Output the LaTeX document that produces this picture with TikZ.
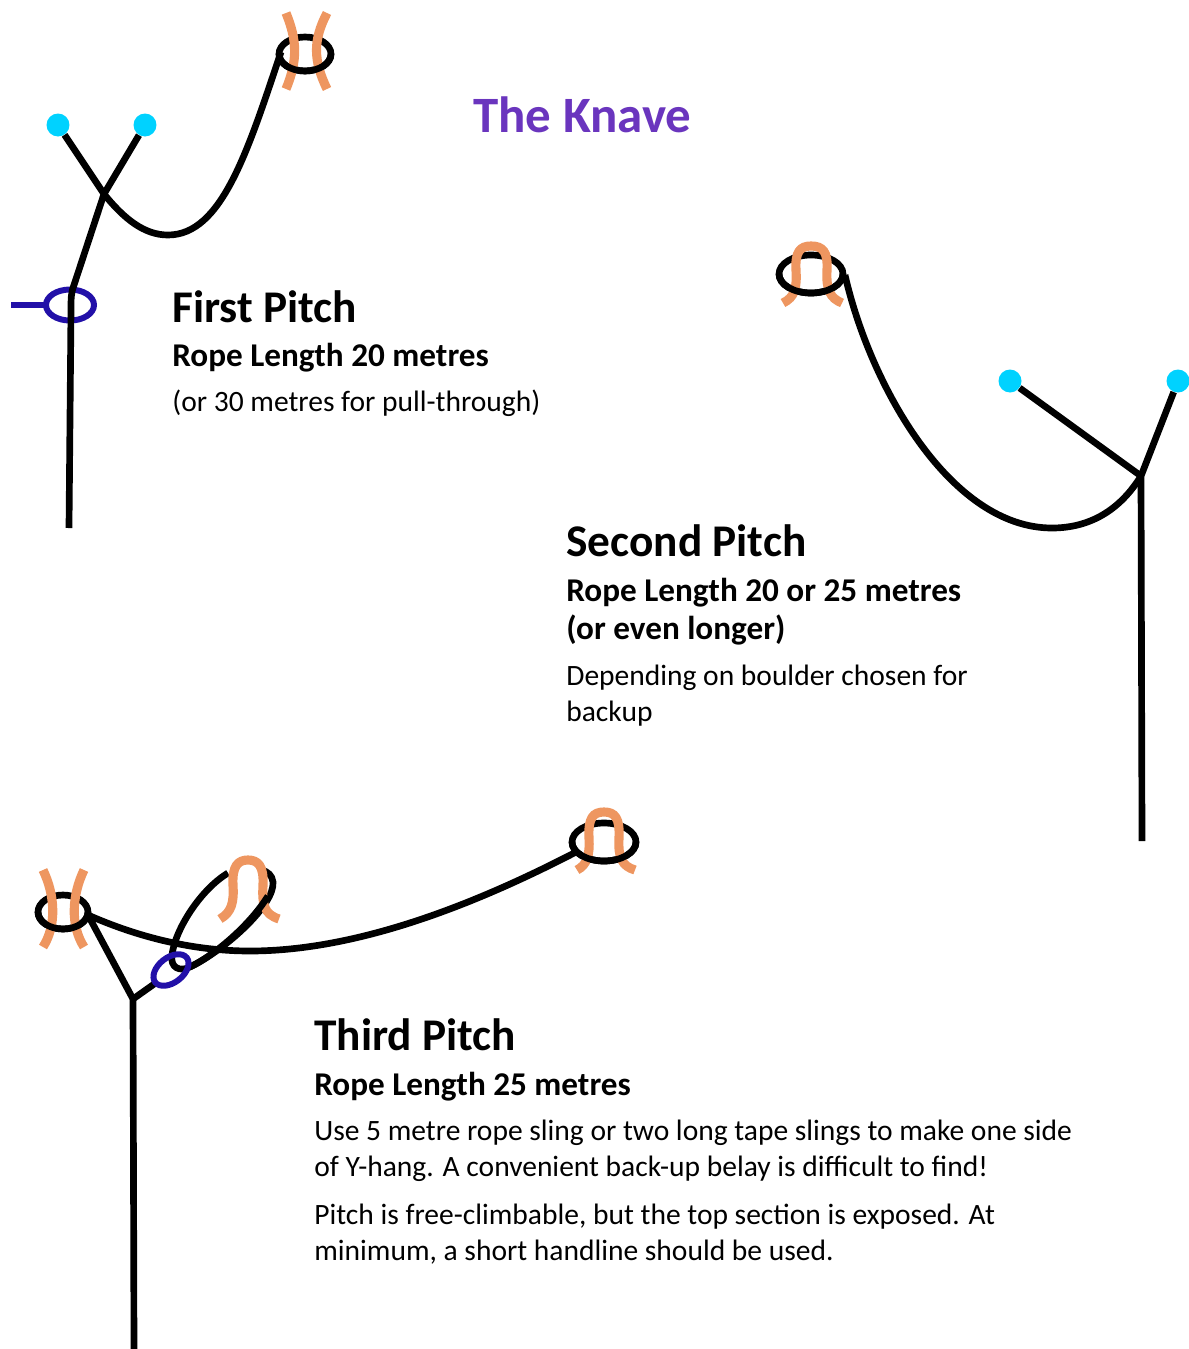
\documentclass[tikz,border=0pt]{standalone}
\usepackage{fontspec}
\setmainfont{Carlito}
\definecolor{slingorange}{HTML}{EE9660}
\definecolor{ringblue}{HTML}{2210A8}
\definecolor{boltcyan}{HTML}{00D2FF}
\definecolor{titlepurple}{HTML}{6A35BE}
\tikzset{
  rope/.style={line width=3.8pt, black},
  sling/.style={line width=5.2pt, slingorange},
  belay/.style={line width=3.4pt, ringblue},
  bolt/.style={circle, fill=boltcyan, inner sep=0pt, minimum size=0.46cm},
  headtext/.style={anchor=base west, inner sep=0pt, font=\fontsize{25.8pt}{28pt}\selectfont\bfseries},
  subtext/.style={anchor=base west, inner sep=0pt, font=\fontsize{18.9pt}{22pt}\selectfont\bfseries},
  bodytext/.style={anchor=base west, inner sep=0pt, font=\fontsize{16.8pt}{20pt}\selectfont}
}
\begin{document}
\begin{tikzpicture}[x=0.02cm, y=-0.02cm]
        \useasboundingbox (0, 0) rectangle (1189, 1349);

        \node[anchor=base west, inner sep=0pt, text=titlepurple, font=\fontsize{29pt}{32pt}\selectfont\bfseries] (title) at (473, 132) {The Knave};

        % first pitch
        \node[bolt] (boltA) at (58, 125) {};
        \node[bolt] (boltB) at (145, 125) {};
        \coordinate (jointA) at (104, 194);
        \coordinate (endA) at (69, 528);
        \draw[belay] (11, 305)--(47, 305);
        \draw[belay] (70, 305) ellipse (24 and 15.5);
        \draw[rope] (boltA)--(jointA) .. controls (125, 220) and (145, 235) .. (168, 235) .. controls (222, 235) and (248, 150) .. (281, 52);
        \draw[rope] (boltB)--(jointA)--(74, 285) .. controls (71, 293) and (71, 298) .. (71, 310)--(endA);
        \draw[rope] (305, 54) ellipse (26 and 17);
        \draw[sling] (286, 13) .. controls (297, 40) and (298, 60) .. (286, 89);
        \draw[sling] (327, 13) .. controls (313, 40) and (313, 60) .. (327, 89);
        \draw[rope] (331, 54) arc[start angle=0, end angle=180, x radius=26, y radius=17];

        \node[headtext] (firstHead) at (172, 322) {First Pitch};
        \node[subtext] (firstSub) at (172, 366) {Rope Length 20 metres};
        \node[bodytext] (firstBody) at (172, 411) {(or 30 metres for pull-through)};

        % second pitch
        \node[bolt] (boltC) at (1010, 381) {};
        \node[bolt] (boltD) at (1178, 381) {};
        \coordinate (jointB) at (1141, 476);
        \coordinate (endB) at (1142, 841);
        \draw[rope] (boltC)--(jointB);
        \draw[rope] (boltD)--(jointB)--(endB);
        \draw[rope] (845, 275) .. controls (870, 385) and (950, 528) .. (1052, 528) .. controls (1090, 528) and (1120, 510) .. (jointB);
        \draw[rope] (811, 274) ellipse (32 and 19);
        \draw[sling] (783, 303) .. controls (795, 297) and (797, 288) .. (796, 270) .. controls (795, 252) and (800, 246) .. (811, 246) .. controls (823, 246) and (828, 252) .. (827, 270) .. controls (826, 290) and (830, 298) .. (842, 303);
        \draw[rope] (843, 274) arc[start angle=0, end angle=180, x radius=32, y radius=19];

        \node[headtext] (secondHead) at (566, 556) {Second Pitch};
        \node[subtext] (secondSubA) at (566, 601) {Rope Length 20 or 25 metres};
        \node[subtext] (secondSubB) at (566, 639) {(or even longer)};
        \node[bodytext] (secondBodyA) at (566, 685) {Depending on boulder chosen for};
        \node[bodytext] (secondBodyB) at (566, 721) {backup};

        % third pitch
        \coordinate (jointC) at (133, 999);
        \coordinate (endC) at (134, 1349);
        \draw[rope] (88, 915)--(jointC)--(endC);
        \draw[rope] (jointC)--(157, 982);
        \draw[rope] (88, 915) .. controls (140, 938) and (195, 951) .. (250, 951) .. controls (360, 951) and (480, 902) .. (578, 851);
        \draw[rope] (63, 912) ellipse (25 and 17);
        \draw[sling] (43, 870) .. controls (55, 895) and (57, 925) .. (43, 947);
        \draw[sling] (84, 870) .. controls (72, 895) and (70, 925) .. (84, 947);
        \draw[rope] (88, 912) arc[start angle=0, end angle=180, x radius=25, y radius=17];
        % loop of the long sling
        \draw[rope] (228, 873) .. controls (200, 890) and (175, 930) .. (172, 955) .. controls (170, 968) and (180, 972) .. (190, 967) .. controls (225, 950) and (275, 905) .. (273, 882) .. controls (272, 875) and (268, 872) .. (262, 870);
        \draw[sling] (220, 919) .. controls (232, 912) and (234, 902) .. (233, 885) .. controls (232, 866) and (238, 860) .. (248, 860) .. controls (258, 860) and (264, 866) .. (263, 885) .. controls (262, 905) and (264, 914) .. (279, 919);
        \draw[rope] (190, 967) .. controls (215, 955) and (250, 925) .. (268, 896);
        \draw[belay, rotate around={38:(171, 970)}] (171, 970) ellipse (20 and 12.5);
        \draw[rope] (604, 842) ellipse (32 and 19);
        \draw[sling] (577, 870) .. controls (587, 865) and (590, 855) .. (589, 838) .. controls (588, 818) and (593, 812) .. (604, 812) .. controls (615, 812) and (620, 818) .. (619, 838) .. controls (618, 858) and (622, 866) .. (635, 870);
        \draw[rope] (636, 842) arc[start angle=0, end angle=180, x radius=32, y radius=19];

        \node[headtext] (thirdHead) at (314, 1050) {Third Pitch};
        \node[subtext] (thirdSub) at (314, 1095) {Rope Length 25 metres};
        \node[bodytext] (thirdBodyA) at (314, 1140) {Use 5 metre rope sling or two long tape slings to make one side};
        \node[bodytext] (thirdBodyB) at (314, 1176) {of Y-hang. A convenient back-up belay is difficult to find!};
        \node[bodytext] (thirdBodyC) at (314, 1224) {Pitch is free-climbable, but the top section is exposed. At};
        \node[bodytext] (thirdBodyD) at (314, 1260) {minimum, a short handline should be used.};
      \end{tikzpicture}
\end{document}
